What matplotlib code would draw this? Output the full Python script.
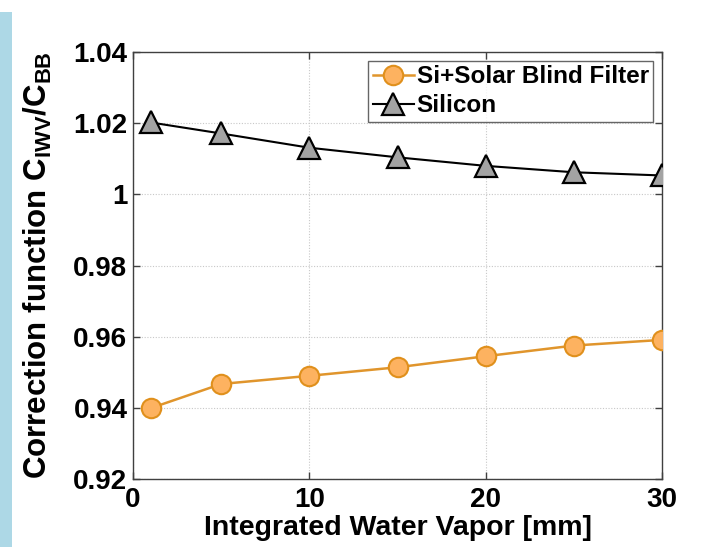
import matplotlib
matplotlib.use("Agg")
import matplotlib.pyplot as plt
from matplotlib.patches import Rectangle

# integrated water vapor [mm]
iwv = [1, 5, 10, 15, 20, 25, 30]
# correction function C_IWV / C_BB
si_solar_blind = [0.9399, 0.9467, 0.9490, 0.9514, 0.9545, 0.9575, 0.9591]
silicon = [1.0202, 1.0171, 1.0131, 1.0104, 1.0080, 1.0062, 1.0053]

x_ticks = [0, 10, 20, 30]
y_ticks = [0.92, 0.94, 0.96, 0.98, 1.00, 1.02, 1.04]
y_tick_labels = ["0.92", "0.94", "0.96", "0.98", "1", "1.02", "1.04"]

plt.rcParams["font.family"] = ["Liberation Sans", "DejaVu Sans"]
plt.rcParams["font.weight"] = "bold"
plt.rcParams["mathtext.fontset"] = "custom"
plt.rcParams["mathtext.rm"] = "Liberation Sans:bold"
plt.rcParams["mathtext.bf"] = "Liberation Sans:bold"

fig = plt.figure(figsize=(7.12, 5.47), dpi=100)
fig.patches.append(Rectangle((0, 0), 12 / 712, 1 - 12 / 547, transform=fig.transFigure,
                             facecolor="#add8e6", edgecolor="none", zorder=0))

ax = fig.add_axes([133 / 712, 68 / 547, 529 / 712, 427 / 547])

ax.plot(iwv, si_solar_blind, color="#e0952c", lw=1.8, marker="o", ms=14,
        mfc="#fdb260", mec="#e0901c", mew=1.5, label="Si+Solar Blind Filter", zorder=3)
ax.plot(iwv, silicon, color="black", lw=1.5, marker="^", ms=16,
        mfc="#a3a3a3", mec="black", mew=1.6, label="Silicon", zorder=3)

ax.set_xlim(0, 30)
ax.set_ylim(0.92, 1.04)
ax.set_xticks(x_ticks)
ax.set_yticks(y_ticks)
ax.set_yticklabels(y_tick_labels)

ax.grid(True, color="#c8c8c8", linestyle=(0, (1, 1.5)), linewidth=0.8)
ax.set_axisbelow(True)
for s in ax.spines.values():
    s.set_color("#404040")
    s.set_linewidth(1.0)

ax.tick_params(axis="both", direction="in", length=5, width=1, color="#404040",
               top=True, right=True, labelsize=20)
ax.tick_params(axis="x", pad=6)
ax.tick_params(axis="y", pad=4)
for lbl in ax.get_xticklabels() + ax.get_yticklabels():
    lbl.set_fontweight("bold")

ax.set_xlabel("Integrated Water Vapor [mm]", fontsize=20.5, fontweight="bold", labelpad=1)
ax.set_ylabel(r"Correction function C$_{\mathbf{IWV}}$/C$_{\mathbf{BB}}$",
              fontsize=22.5, fontweight="bold")
ax.yaxis.set_label_coords(-0.15, 0.5)

leg = ax.legend(loc="upper right", frameon=True, fancybox=False,
                handlelength=1.7, handletextpad=0.1, borderpad=0.2, labelspacing=0.25,
                borderaxespad=0.35, prop={"weight": "bold", "size": 17.5})
leg.get_frame().set_edgecolor("#404040")
leg.get_frame().set_linewidth(1.0)

fig.savefig("out.png", dpi=100)
